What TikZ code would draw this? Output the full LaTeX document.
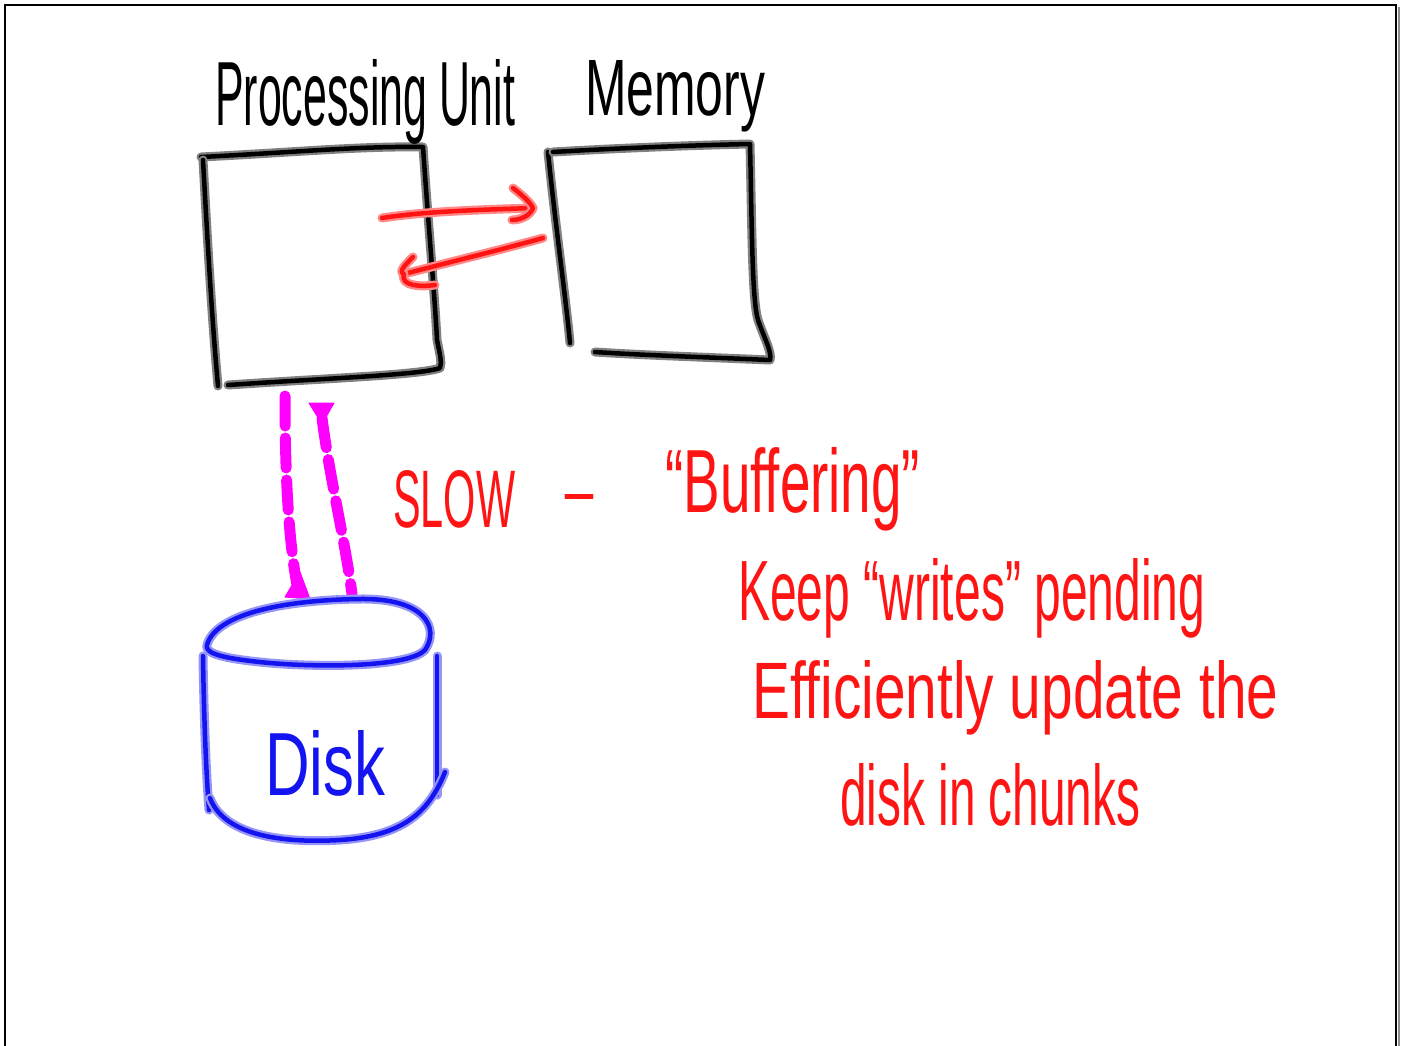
\documentclass[tikz,border=0pt]{standalone}
\usepackage{fontspec}
\setmainfont{Liberation Sans}
\usepackage{graphicx}
\newcommand{\hw}[3]{\resizebox{#1pt}{#2pt}{#3}}
\definecolor{penred}{RGB}{255,20,20}
\definecolor{penblue}{RGB}{20,20,240}
\definecolor{penmag}{RGB}{255,0,255}
\begin{document}
\begin{tikzpicture}[x=1pt,y=-1pt,
  txt/.style={inner sep=0pt, anchor=base west},
  blackpen/.style={line width=4.5pt, line cap=round, line join=round, draw=black,
     preaction={draw=black!50, line width=9pt, line cap=round, line join=round}},
  redpen/.style={line width=4.5pt, line cap=round, line join=round, draw=penred,
     preaction={draw=penred!50, line width=9pt, line cap=round, line join=round}},
  bluepen/.style={line width=4.5pt, line cap=round, line join=round, draw=penblue,
     preaction={draw=penblue!45, line width=9pt, line cap=round, line join=round}},
  magpen/.style={line width=11pt, draw=penmag, dash pattern=on 30pt off 12pt},
  magtip/.style={fill=penmag, draw=penmag, line width=1pt, line join=round}]
\useasboundingbox (0,0) rectangle (1404,1045);
\fill[white] (0,0) rectangle (1404,1045);
% frame
\draw[black, line width=2pt] (5,1050) -- (5,5) -- (1396,5) -- (1396,1050);
\draw[black!45, line width=2pt] (1399,7) -- (1399,1050);

% Processing Unit box
\coordinate (pu1) at (201,157);
\coordinate (pu2) at (423,147);
\coordinate (pu3) at (440,368);
\coordinate (pu4) at (218,386);
\draw[blackpen] (pu1) .. controls (300,152) and (360,146) .. (pu2)
  .. controls (428,220) and (435,300) .. (437,340) .. controls (440,355) and (442,362) .. (pu3)
  .. controls (420,375) and (330,378) .. (228,385);
\draw[blackpen] (203,160) .. controls (208,250) and (212,320) .. (pu4);

% Memory box
\coordinate (m1) at (548,152);
\coordinate (m2) at (750,144);
\coordinate (m3) at (770,360);
\draw[blackpen] (m1) .. controls (556,230) and (566,300) .. (570,343);
\draw[blackpen] (553,152) .. controls (620,148) and (700,145) .. (m2)
  .. controls (752,230) and (752,300) .. (758,320) .. controls (765,340) and (772,352) .. (m3)
  .. controls (700,357) and (640,355) .. (595,352);

% red arrows
\coordinate (ra1) at (382,218);
\coordinate (ra2) at (533,208);
\draw[redpen] (ra1) .. controls (420,212) and (470,210) .. (ra2);
\draw[redpen] (513,188) .. controls (522,195) and (530,202) .. (ra2) .. controls (530,216) and (520,220) .. (512,220);
\coordinate (rb1) at (543,238);
\coordinate (rb2) at (404,274);
\draw[redpen] (rb1) .. controls (500,250) and (450,262) .. (rb2);
\draw[redpen] (413,257) .. controls (405,265) and (398,272) .. (rb2) .. controls (400,286) and (420,287) .. (435,285);

% magenta dashed arrows
\coordinate (ma1) at (285,396);
\coordinate (ma2) at (298,590);
\draw[magpen, line cap=round] (ma1) .. controls (285,470) and (288,540) .. (ma2);
\fill[magtip] (285,597) -- (300,572) -- (310,599) -- cycle;
\coordinate (mb1) at (322,418);
\coordinate (mb2) at (352,594);
\draw[magpen, line cap=round] (mb1) .. controls (330,480) and (345,540) .. (mb2);
\fill[magtip] (309,403) -- (334,403) -- (322,424) -- cycle;

% disk
\coordinate (d1) at (207,645);
\draw[bluepen] (d1) .. controls (215,615) and (280,600) .. (360,599)
  .. controls (425,598) and (440,628) .. (425,650)
  .. controls (410,666) and (330,668) .. (270,663)
  .. controls (215,658) and (205,652) .. (d1);
\draw[bluepen] (203,656) .. controls (204,720) and (206,770) .. (209,810);
\draw[bluepen] (437,656) .. controls (437,700) and (437,760) .. (437,795);
\draw[bluepen] (210,798) .. controls (225,838) and (290,843) .. (340,840)
  .. controls (400,836) and (428,815) .. (445,772);

% texts
\node[txt, text=black] (tpu) at (215,125) {\hw{300}{66}{Processing Unit}};
\node[txt, text=black] (tmem) at (585,115) {\hw{180}{55}{Memory}};
\node[txt, text=penblue] (tdisk) at (265,795) {\hw{120}{65}{Disk}};
\node[txt, text=penred] (tslow) at (393,527) {\hw{122}{57}{SLOW}};
\node[txt, text=penred] (tdash) at (563,510) {\hw{32}{16}{\textbf{–}}};
\node[txt, text=penred] (tbuf) at (665,512) {\hw{255}{65}{“Buffering”}};
\node[txt, text=penred] (tkeep) at (738,620) {\hw{467}{62}{Keep “writes” pending}};
\node[txt, text=penred] (teff) at (752,718) {\hw{526}{58}{Efficiently update the}};
\node[txt, text=penred] (tchunk) at (840,825) {\hw{300}{62}{disk in chunks}};
\end{tikzpicture}
\end{document}
